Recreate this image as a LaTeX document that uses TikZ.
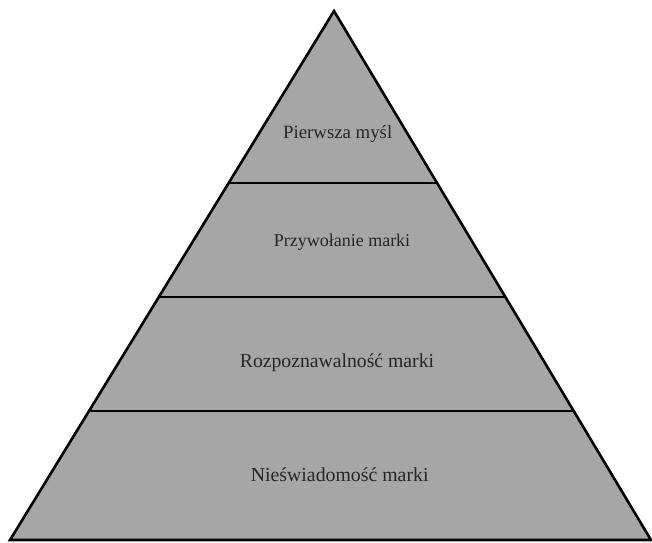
\documentclass[tikz,border=0pt]{standalone}
\usepackage{fontspec}
\setmainfont{Liberation Serif}
\usetikzlibrary{calc}

\begin{document}
\begin{tikzpicture}[x=1pt,y=-1pt,
  band/.style={fill=black!35,draw=black,line width=2.6pt},
  pyrtext/.style={text=black!85,anchor=base}]
\useasboundingbox (0,0) rectangle (652,542);
\coordinate (apex) at (334,11);
\coordinate (bl) at (10,540);
\coordinate (br) at (651,540);
\draw[band] (apex) -- (br) -- (bl) -- cycle;
\coordinate (l1) at ($(apex)!0.3251!(bl)$);
\coordinate (r1) at ($(apex)!0.3251!(br)$);
\coordinate (l2) at ($(apex)!0.5406!(bl)$);
\coordinate (r2) at ($(apex)!0.5406!(br)$);
\coordinate (l3) at ($(apex)!0.7561!(bl)$);
\coordinate (r3) at ($(apex)!0.7561!(br)$);
\draw[black,line width=2.6pt] (l1) -- (r1);
\draw[black,line width=2.6pt] (l2) -- (r2);
\draw[black,line width=2.6pt] (l3) -- (r3);

\node[pyrtext,font=\fontsize{18.8}{22}\selectfont] (first) at (337.7,138) {Pierwsza myśl};
\node[pyrtext,font=\fontsize{18}{22}\selectfont] (recall) at (342,246.7) {Przywołanie marki};
\node[pyrtext,font=\fontsize{19.7}{23}\selectfont] (recog) at (337,367.7) {Rozpoznawalność marki};
\node[pyrtext,font=\fontsize{19.8}{23}\selectfont] (unaware) at (339.7,481) {Nieświadomość marki};
\end{tikzpicture}
\end{document}
